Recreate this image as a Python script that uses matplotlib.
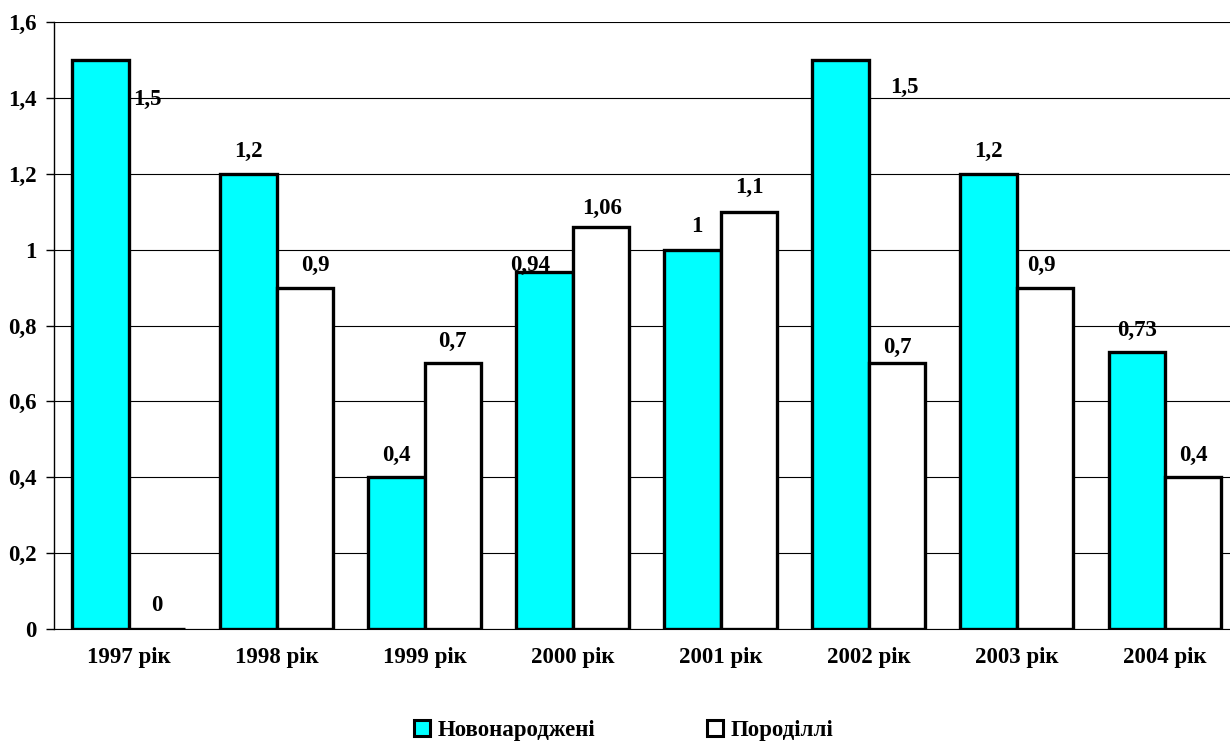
import numpy as np
import matplotlib.pyplot as plt
from matplotlib.patches import Patch

plt.rcParams['font.family'] = ['Liberation Serif', 'DejaVu Serif']
plt.rcParams['font.weight'] = 'bold'

years = ['1997 рік', '1998 рік', '1999 рік', '2000 рік',
         '2001 рік', '2002 рік', '2003 рік', '2004 рік']
newborns = [1.5, 1.2, 0.4, 0.94, 1.0, 1.5, 1.2, 0.73]
mothers = [0.0, 0.9, 0.7, 1.06, 1.1, 0.7, 0.9, 0.4]
yticks = [0, 0.2, 0.4, 0.6, 0.8, 1.0, 1.2, 1.4, 1.6]


def fmt(v):
    s = ('%.2f' % v).rstrip('0').rstrip('.')
    return s.replace('.', ',')


fig = plt.figure(figsize=(12.3, 7.44), dpi=100)
ax = fig.add_axes([0.0443, 0.1546, 0.963, 0.8158])

x = np.arange(len(years))
w = 0.381
ax.bar(x - w / 2, newborns, w, color='#00FFFF', edgecolor='black',
       linewidth=2.4, zorder=3)
ax.bar(x + w / 2, mothers, w, color='white', edgecolor='black',
       linewidth=2.4, zorder=3)

# label offsets in pixels from the bar top (some labels sit off-centre)
offs1 = {0: (47, -40), 3: (-14, 7), 4: (4, 23), 5: (64, -28)}
offs2 = {0: (0, 23), 1: (11, 22), 3: (1, 18), 4: (0, 24), 5: (0, 16),
         6: (-4, 22)}
fs = 16.5
for i, v in enumerate(newborns):
    ax.annotate(fmt(v), (x[i] - w / 2, v), xytext=offs1.get(i, (0, 22)),
                textcoords='offset pixels', ha='center', va='center',
                fontsize=fs, fontweight='bold', zorder=4)
for i, v in enumerate(mothers):
    ax.annotate(fmt(v), (x[i] + w / 2, v), xytext=offs2.get(i, (0, 22)),
                textcoords='offset pixels', ha='center', va='center',
                fontsize=fs, fontweight='bold', zorder=4)

ax.set_xlim(-0.5, len(years) - 0.5)
ax.set_ylim(0, 1.6)
ax.set_yticks(yticks)
ax.set_yticklabels([fmt(t) for t in yticks], fontsize=fs, fontweight='bold')
ax.set_xticks(x)
ax.set_xticklabels(years, fontsize=fs, fontweight='bold')
ax.tick_params(axis='x', length=0, pad=13)
ax.tick_params(axis='y', length=6, width=1, pad=7, direction='out')
ax.yaxis.grid(True, color='black', linewidth=0.8, zorder=0)
ax.set_axisbelow(True)
for s in ['top', 'right']:
    ax.spines[s].set_visible(False)
ax.spines['left'].set_linewidth(1.0)
ax.spines['bottom'].set_linewidth(0.8)

handles = [Patch(facecolor='#00FFFF', edgecolor='black', linewidth=2.2),
           Patch(facecolor='white', edgecolor='black', linewidth=2.2)]
fig.legend(handles, ['Новонароджені', 'Породіллі'], loc='center',
           bbox_to_anchor=(0.507, 0.018), ncol=2, frameon=False,
           handlelength=0.7, handleheight=0.7, handletextpad=0.3,
           columnspacing=4.9, prop={'size': fs, 'weight': 'bold'})

fig.savefig('out.png', dpi=100)
